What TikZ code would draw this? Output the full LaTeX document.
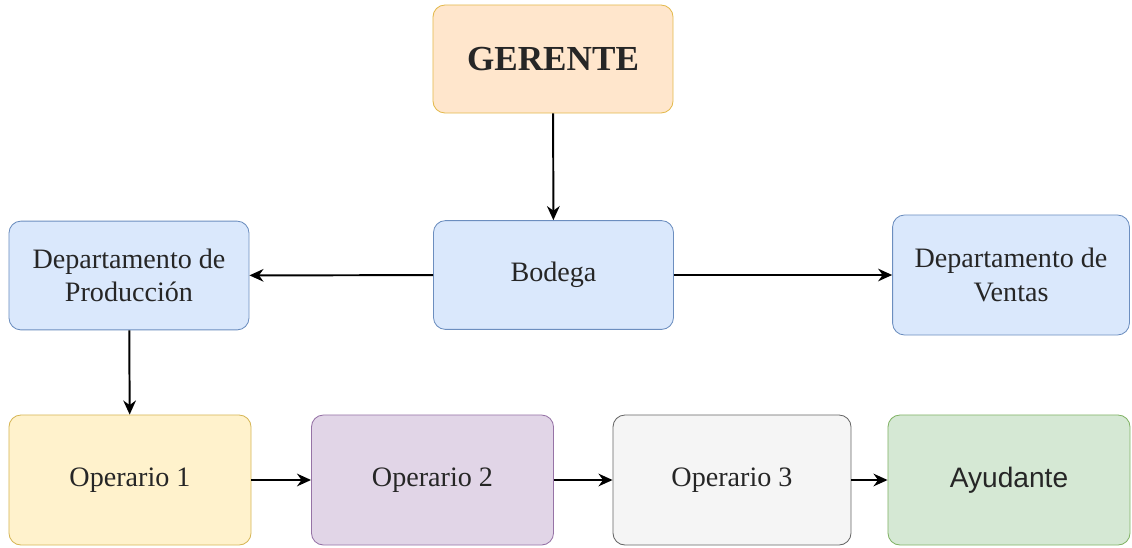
\documentclass[tikz,border=0pt]{standalone}
\usepackage{fontspec}
\setmainfont{Liberation Serif}
\newfontfamily\helv{Liberation Sans}
\usepackage{xcolor}
\usetikzlibrary{arrows.meta}
\definecolor{orgfill}{HTML}{FFE6CC}
\definecolor{orgline}{HTML}{D79B00}
\definecolor{bluefill}{HTML}{DAE8FC}
\definecolor{blueline}{HTML}{6C8EBF}
\definecolor{yelfill}{HTML}{FFF2CC}
\definecolor{yelline}{HTML}{D6B656}
\definecolor{purfill}{HTML}{E1D5E7}
\definecolor{purline}{HTML}{9673A6}
\definecolor{grayfill}{HTML}{F5F5F5}
\definecolor{grayline}{HTML}{666666}
\definecolor{grnfill}{HTML}{D5E8D4}
\definecolor{grnline}{HTML}{82B366}
\tikzset{
  box/.style={draw, rounded corners=0.3cm, line width=0.6pt, align=center,
    inner sep=0pt, font=\fontsize{20}{24}\selectfont, text=black!85},
  dept/.style={box, fill=bluefill, draw=blueline, minimum width=6cm, minimum height=2.72cm},
  oper/.style={box, minimum width=6.05cm, minimum height=3.25cm},
}
\begin{document}
\begin{tikzpicture}[x=0.025cm, y=-0.025cm]
    \useasboundingbox (0,0) rectangle (1132,547);
    \node[box, fill=orgfill, draw=orgline!70, minimum width=6cm, minimum height=2.7cm,
      font=\fontsize{25}{30}\selectfont\bfseries] (ger) at (553,59) {GERENTE};
    \node[dept] (bod) at (553.5,275) {Bodega};
    \node[dept] (prod) at (129,275.5) {Departamento de\\Producción};
    \node[dept, minimum width=5.92cm, minimum height=3cm] (vent) at (1011,275) {Departamento de\\Ventas};
    \node[oper, fill=yelfill, draw=yelline] (op1) at (130,480) {Operario 1};
    \node[oper, fill=purfill, draw=purline] (op2) at (432.5,480) {Operario 2};
    \node[oper, fill=grayfill, draw=grayline, minimum width=5.95cm] (op3) at (732,480) {Operario 3};
    \node[oper, fill=grnfill, draw=grnline, font=\fontsize{20}{24}\helv] (ayu) at (1009,480) {Ayudante};
    \path[-{Stealth[length=10pt,width=9pt]}, line width=1.4pt]
      (ger) edge (bod)
      (bod) edge (prod)
      (bod) edge (vent)
      (prod) edge (op1)
      (op1) edge (op2)
      (op2) edge (op3)
      (op3) edge (ayu)
      ;
  \end{tikzpicture}
\end{document}
